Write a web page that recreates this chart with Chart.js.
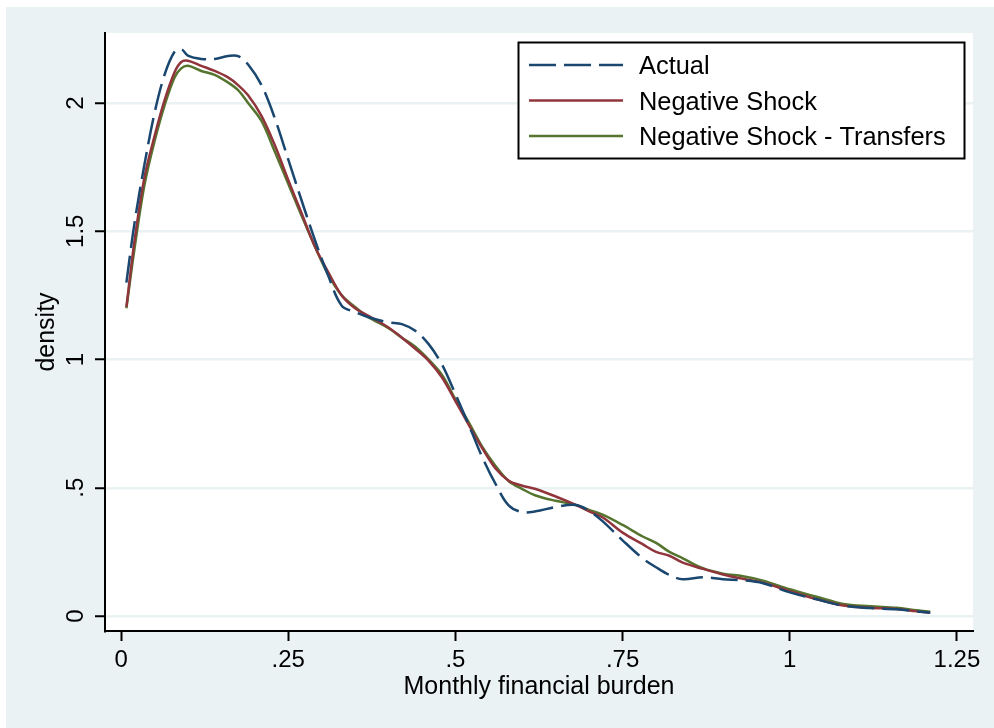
<!DOCTYPE html>
<html>
<head>
<meta charset="utf-8">
<script src="https://cdn.jsdelivr.net/npm/chart.js@4.4.0/dist/chart.umd.min.js"></script>
<style>
html,body{margin:0;padding:0;background:#ffffff;}
#wrap{width:994px;height:728px;position:relative;}
canvas{display:block;}
</style>
</head>
<body>
<div id="wrap"><canvas id="c" width="994" height="728"></canvas></div>
<script>
// ---- data ----
const burden = [0.008, 0.02, 0.035, 0.05, 0.065, 0.08, 0.09, 0.10, 0.12, 0.14, 0.16, 0.175, 0.19, 0.21, 0.23, 0.25, 0.27, 0.29, 0.31, 0.33, 0.35, 0.37, 0.40, 0.42, 0.44, 0.46, 0.48, 0.50, 0.52, 0.54, 0.56, 0.58, 0.60, 0.62, 0.65, 0.68, 0.70, 0.72, 0.75, 0.78, 0.80, 0.82, 0.84, 0.87, 0.90, 0.93, 0.96, 1.00, 1.04, 1.08, 1.12, 1.16, 1.19, 1.21];

const actualDensity = [1.30, 1.53, 1.76, 1.96, 2.11, 2.20, 2.21, 2.185, 2.172, 2.172, 2.183, 2.183, 2.15, 2.07, 1.94, 1.78, 1.62, 1.465, 1.325, 1.21, 1.185, 1.165, 1.145, 1.138, 1.112, 1.06, 0.98, 0.865, 0.745, 0.62, 0.515, 0.43, 0.405, 0.408, 0.425, 0.433, 0.41, 0.37, 0.295, 0.225, 0.19, 0.16, 0.143, 0.151, 0.143, 0.139, 0.128, 0.092, 0.065, 0.04, 0.031, 0.026, 0.018, 0.013];

const shockDensity = [1.205, 1.46, 1.71, 1.87, 2.01, 2.12, 2.16, 2.165, 2.145, 2.125, 2.10, 2.07, 2.03, 1.95, 1.835, 1.70, 1.57, 1.44, 1.34, 1.25, 1.20, 1.17, 1.125, 1.085, 1.042, 0.995, 0.93, 0.838, 0.745, 0.655, 0.575, 0.527, 0.508, 0.495, 0.466, 0.433, 0.408, 0.385, 0.325, 0.28, 0.25, 0.235, 0.208, 0.184, 0.162, 0.145, 0.13, 0.097, 0.066, 0.041, 0.032, 0.027, 0.018, 0.013];

const transfersDensity = [1.20, 1.43, 1.68, 1.85, 1.99, 2.10, 2.135, 2.145, 2.125, 2.11, 2.08, 2.05, 2.00, 1.93, 1.81, 1.685, 1.56, 1.44, 1.33, 1.25, 1.205, 1.165, 1.122, 1.085, 1.05, 1.0, 0.94, 0.845, 0.755, 0.66, 0.585, 0.525, 0.495, 0.47, 0.449, 0.433, 0.414, 0.395, 0.355, 0.31, 0.285, 0.25, 0.225, 0.186, 0.165, 0.155, 0.138, 0.104, 0.075, 0.047, 0.038, 0.032, 0.022, 0.017];

const seriesNames = ['Actual', 'Negative Shock', 'Negative Shock - Transfers'];

const xTickValues = [0, 0.25, 0.5, 0.75, 1, 1.25];
const xTickLabels = ['0', '.25', '.5', '.75', '1', '1.25'];
const yTickValues = [0, 0.5, 1, 1.5, 2];
const yTickLabels = ['0', '.5', '1', '1.5', '2'];

const xTitle = 'Monthly financial burden';
const yTitle = 'density';

// ---- styling ----
const BG = '#eaf2f3';
const FONT = "'Liberation Sans', Arial, Helvetica, sans-serif";

function pts(xs, ys) { return xs.map((x, i) => ({x: x, y: ys[i]})); }

const bgPlugin = {
  id: 'bg',
  beforeDraw(chart) {
    const ctx = chart.ctx;
    const a = chart.chartArea;
    ctx.save();
    ctx.fillStyle = '#ffffff';
    ctx.fillRect(0, 0, chart.width, chart.height);
    ctx.fillStyle = BG;
    ctx.fillRect(6, 7, chart.width - 6, chart.height - 7);
    ctx.fillStyle = '#ffffff';
    ctx.fillRect(a.left, a.top, a.right - a.left, a.bottom - a.top);
    ctx.restore();
  }
};

const legendPlugin = {
  id: 'boxLegend',
  afterDraw(chart) {
    const ctx = chart.ctx;
    const box = {x: 518, y: 42, w: 446, h: 116};
    ctx.save();
    ctx.fillStyle = '#ffffff';
    ctx.fillRect(box.x, box.y, box.w, box.h);
    ctx.strokeStyle = '#000000';
    ctx.lineWidth = 2;
    ctx.strokeRect(box.x + 0.5, box.y + 0.5, box.w, box.h);
    const rows = [65, 100.5, 136];
    chart.data.datasets.forEach((ds, i) => {
      const y = rows[i];
      ctx.beginPath();
      ctx.setLineDash(ds.borderDash || []);
      ctx.strokeStyle = ds.borderColor;
      ctx.lineWidth = 2.6;
      ctx.moveTo(529, y);
      ctx.lineTo(623, y);
      ctx.stroke();
      ctx.setLineDash([]);
      ctx.fillStyle = '#000000';
      ctx.font = '25.4px ' + FONT;
      ctx.textAlign = 'left';
      ctx.textBaseline = 'middle';
      ctx.fillText(ds.label, 639, y + 2);
    });
    ctx.restore();
  }
};

const ctx = document.getElementById('c').getContext('2d');
new Chart(ctx, {
  type: 'line',
  data: {
    datasets: [
      {label: seriesNames[0], data: pts(burden, actualDensity), borderColor: '#1a476f', borderWidth: 2.5, borderDash: [27, 8], pointRadius: 0, tension: 0.35, fill: false},
      {label: seriesNames[1], data: pts(burden, shockDensity), borderColor: '#90353b', borderWidth: 2.5, pointRadius: 0, tension: 0.35, fill: false},
      {label: seriesNames[2], data: pts(burden, transfersDensity), borderColor: '#55752f', borderWidth: 2.5, pointRadius: 0, tension: 0.35, fill: false}
    ]
  },
  options: {
    responsive: false,
    animation: false,
    devicePixelRatio: 1,
    layout: {padding: {left: 6, top: 33, right: 21, bottom: 0}},
    plugins: {legend: {display: false}, tooltip: {enabled: false}},
    scales: {
      x: {
        type: 'linear',
        min: -0.024,
        max: 1.274,
        afterBuildTicks: (s) => { s.ticks = xTickValues.map(v => ({value: v})); },
        afterFit: (s) => { s.height = 97; },
        ticks: {
          color: '#000', padding: 5, maxRotation: 0, minRotation: 0, autoSkip: false,
          font: {family: FONT, size: 24},
          callback: (v, i) => xTickLabels[i]
        },
        grid: {drawOnChartArea: false, drawTicks: true, tickLength: 10, tickWidth: 2, tickColor: '#000'},
        border: {display: true, color: '#000', width: 2},
        title: {display: true, text: xTitle, color: '#000', font: {family: FONT, size: 25}, padding: {top: 0, bottom: 26}}
      },
      y: {
        type: 'linear',
        min: -0.0585,
        max: 2.273,
        afterBuildTicks: (s) => { s.ticks = yTickValues.map(v => ({value: v})); },
        afterFit: (s) => { s.width = 99; },
        ticks: {
          color: '#000', padding: 2, minRotation: 90, maxRotation: 90, crossAlign: 'center', autoSkip: false,
          font: {family: FONT, size: 24},
          callback: (v, i) => yTickLabels[i]
        },
        grid: {color: BG, lineWidth: 2.5, drawTicks: true, tickLength: 10, tickWidth: 2, tickColor: '#000'},
        border: {display: true, color: '#000', width: 2},
        title: {display: true, text: yTitle, color: '#000', font: {family: FONT, size: 25}, padding: {top: 26, bottom: 0}}
      }
    }
  },
  plugins: [bgPlugin, legendPlugin]
});
</script>
</body>
</html>
